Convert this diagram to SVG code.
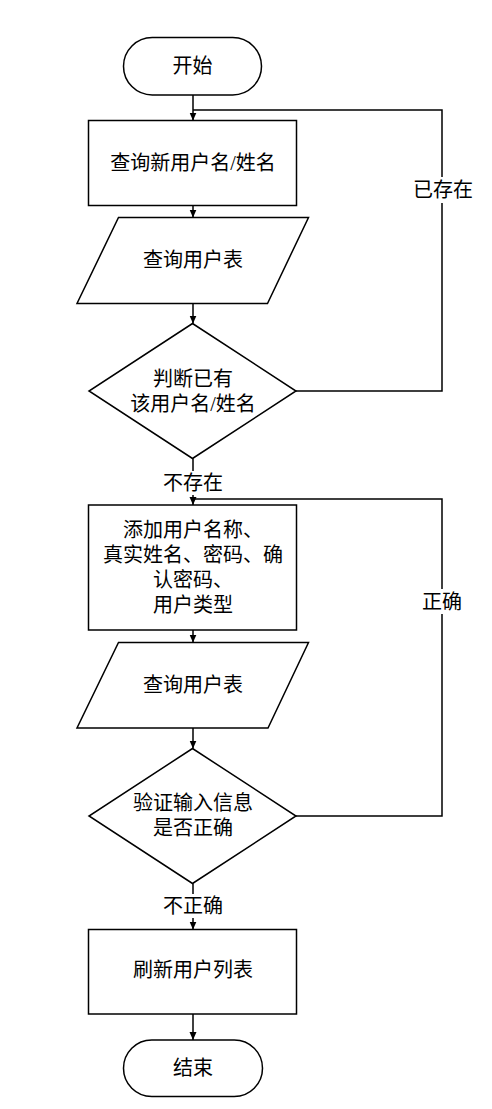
<svg xmlns="http://www.w3.org/2000/svg" width="492" height="1109" viewBox="0 0 492 1109">
<style>
.s{fill:#fff;stroke:#000;stroke-width:1.5}
.c{fill:none;stroke:#000;stroke-width:1.5}
text{font-family:"Liberation Serif","Noto Sans CJK SC",serif;font-size:20px;fill:#000;text-anchor:middle;dominant-baseline:central}
</style>
<defs>
<marker id="a" viewBox="0 0 8 8" refX="8" refY="4" markerWidth="8" markerHeight="8" markerUnits="userSpaceOnUse" orient="auto">
<path d="M0,0.5 L8,4 L0,7.5 Z" fill="#000"/>
</marker>
</defs>
<rect width="492" height="1109" fill="#fff"/>
<g id="connectors">
<path class="c" d="M193,95 V120.5" marker-end="url(#a)"/>
<path class="c" d="M296,391 H442 V203 M442,177 V110 H193"/>
<path class="c" d="M193,205.5 V217.5" marker-end="url(#a)"/>
<path class="c" d="M193,303.5 V323.5" marker-end="url(#a)"/>
<path class="c" d="M193,458.5 V471 M193,495 V505" marker-end="url(#a)"/>
<path class="c" d="M296,816 H442 V614 M442,589 V499 H193"/>
<path class="c" d="M193,630 V642.5" marker-end="url(#a)"/>
<path class="c" d="M193,728 V748.5" marker-end="url(#a)"/>
<path class="c" d="M193,883.5 V894 M193,918 V929.5" marker-end="url(#a)"/>
<path class="c" d="M193,1014 V1040" marker-end="url(#a)"/>
<text x="443" y="190">已存在</text>
<text x="193" y="483">不存在</text>
<text x="442" y="601.5">正确</text>
<text x="193" y="906">不正确</text>
</g>
<g id="start">
<rect class="s" x="123.5" y="37.5" width="138" height="57.5" rx="28.75"/>
<text x="192.5" y="66">开始</text>
</g>
<g id="query-name">
<rect class="s" x="88.5" y="120.5" width="208" height="85"/>
<text x="193" y="163">查询新用户名/姓名</text>
</g>
<g id="query-table-1">
<polygon class="s" points="118.5,217.5 308.5,217.5 267.5,303.5 77,303.5"/>
<text x="193" y="260">查询用户表</text>
</g>
<g id="check-exists">
<polygon class="s" points="192.5,323.5 296,391 192.5,458.5 89,391"/>
<text x="193" y="378.5">判断已有</text>
<text x="193" y="403.5">该用户名/姓名</text>
</g>
<g id="add-user">
<rect class="s" x="88.5" y="505" width="208" height="125"/>
<text x="193" y="529.5">添加用户名称、</text>
<text x="193" y="555">真实姓名、密码、确</text>
<text x="193" y="580">认密码、</text>
<text x="193" y="605">用户类型</text>
</g>
<g id="query-table-2">
<polygon class="s" points="118.5,642.5 308.5,642.5 268,728 77,728"/>
<text x="193" y="685">查询用户表</text>
</g>
<g id="validate">
<polygon class="s" points="192.5,748.5 296,816 192.5,883.5 89,816"/>
<text x="193" y="803">验证输入信息</text>
<text x="193" y="827.5">是否正确</text>
</g>
<g id="refresh">
<rect class="s" x="88.5" y="929.5" width="208" height="84.5"/>
<text x="193" y="970">刷新用户列表</text>
</g>
<g id="end">
<rect class="s" x="123.5" y="1040" width="139" height="56.5" rx="28.25"/>
<text x="193" y="1068">结束</text>
</g>
</svg>
